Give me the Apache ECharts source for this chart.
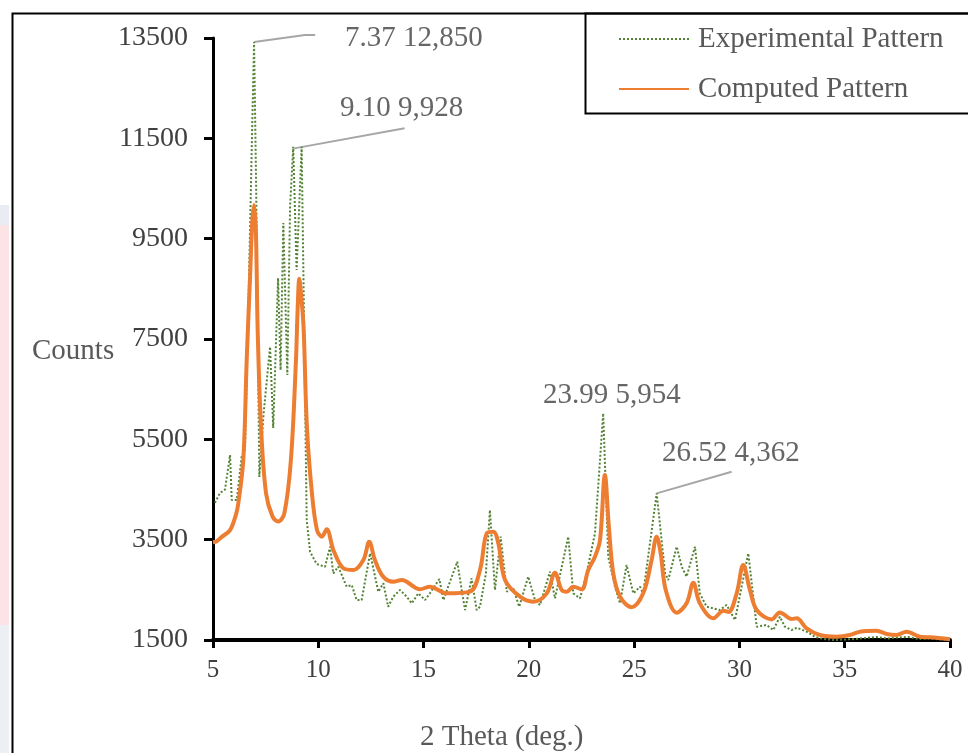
<!DOCTYPE html>
<html>
<head>
<meta charset="utf-8">
<script src="https://cdn.jsdelivr.net/npm/echarts@6/dist/echarts.min.js"></script>
<style>
html,body{margin:0;padding:0;background:#fff;}
#chart{width:968px;height:753px;}
</style>
</head>
<body>
<div id="chart"></div>
<script>
// ---- data ----
const xTicks = [5, 10, 15, 20, 25, 30, 35, 40];
const yTicks = [1500, 3500, 5500, 7500, 9500, 11500, 13500];

const expX = [5.09,5.33,5.57,5.81,5.89,6.13,6.36,6.52,6.7,6.85,6.95,7.05,7.2,7.4,7.71,7.86,8.09,8.21,8.34,8.53,8.66,8.81,8.97,9.21,9.32,9.45,9.61,9.92,10.32,10.56,10.71,10.95,11.35,11.59,11.82,12.06,12.46,12.85,13.09,13.32,13.56,13.88,14.20,14.44,14.75,15.07,15.30,15.75,15.94,16.17,16.60,16.81,16.97,17.28,17.52,17.68,17.96,18.15,18.39,18.66,18.95,19.26,19.54,19.97,20.29,20.53,21.00,21.24,21.87,22.11,22.43,22.74,23.14,23.53,23.77,24.09,24.33,24.64,24.96,25.28,25.43,26.07,26.47,26.62,27.02,27.26,27.49,27.89,28.12,28.44,28.76,29.07,29.39,29.79,30.42,30.82,31.29,31.61,31.92,32.16,32.48,32.72,33.19,33.6,34.0,34.5,35.0,35.5,36.0,36.5,37.0,37.5,38.0,38.5,39.0,39.5,40.0];
const expY = [4236,4429,4500,5187,4290,4290,5153,5300,8500,11500,13420,10500,4750,6000,7345,5725,8715,6880,9811,6781,10137,11332,8874,11332,8000,3892,3260,3015,2961,3360,2828,2961,2563,2596,2297,2297,3227,2463,2630,2164,2363,2497,2363,2231,2430,2297,2430,2716,2297,2563,3061,2497,2098,2730,2098,2164,2828,4091,2497,3560,2463,2530,2164,2763,2297,2197,2862,2330,3560,2430,2330,2828,3627,6018,3160,2563,2231,2995,2430,2563,2430,4423,2828,2696,3360,2961,2763,3360,2430,2164,2131,2098,2197,1899,3227,1765,1799,1699,1964,1765,1699,1745,1666,1560,1520,1500,1510,1520,1540,1560,1530,1550,1560,1520,1530,1510,1500];

const calcX = [5.00,5.18,5.43,5.81,6.09,6.20,6.44,6.60,6.76,6.86,6.95,7.04,7.12,7.28,7.52,7.83,8.10,8.39,8.70,8.94,9.02,9.10,9.18,9.30,9.46,9.70,9.94,10.17,10.40,10.72,11.19,11.67,12.14,12.42,12.69,13.08,13.56,13.96,14.83,15.30,16.10,17.20,17.68,18.00,18.31,18.55,18.87,19.58,20.21,20.85,21.24,21.56,21.80,22.11,22.51,22.82,23.14,23.38,23.61,23.80,24.01,24.33,24.88,25.43,25.83,26.07,26.26,26.50,27.02,27.49,27.81,28.12,28.76,29.24,29.48,29.87,30.18,30.50,30.82,31.53,31.92,32.48,32.72,33.19,33.82,34.62,35.25,35.72,36.51,36.99,37.46,37.94,38.57,39.05,40.00];
const calcY = [3450,3470,3560,3690,4000,4220,5100,7080,8740,9800,10170,9600,7700,5750,4420,3960,3860,4030,5090,7080,8100,8700,8400,7740,5750,4420,3690,3560,3706,3290,2930,2895,3094,3459,3094,2763,2662,2696,2510,2563,2430,2463,2895,3627,3659,3427,2696,2363,2263,2430,2841,2497,2463,2563,2510,2895,3160,3493,4789,3758,2828,2363,2152,2430,3094,3560,3227,2497,2045,2231,2642,2231,1932,2084,2058,2430,2995,2497,2098,1911,2050,1918,1932,1733,1600,1566,1600,1666,1686,1620,1600,1666,1566,1553,1514];

const annotText = ['7.37 12,850', '9.10 9,928', '23.99 5,954', '26.52 4,362'];
const annotX = [11.27, 11.03, 20.67, 26.32];
const annotY = [13498, 12103, 6383, 5227];

const leaderA = [[6.95,13420],[9.37,13560],[9.85,13560]];
const leaderB = [[8.86,11300],[14.1,11700]];
const leaderC = [[26.07,4423],[29.63,4854]];

const seriesNames = ['Experimental Pattern', 'Computed Pattern'];

// ---- chart ----
const FONT = 'Liberation Serif';
const TXT = '#404040';
const chart = echarts.init(document.getElementById('chart'), null, {renderer: 'canvas'});
const pair = (xs, ys) => xs.map((x, i) => [x, ys[i]]);
const leaderSeries = (d) => ({
  type: 'line', data: d, clip: false, silent: true, symbol: 'none', z: 1,
  lineStyle: {color: '#a6a6a6', width: 2}, legendHoverLink: false, tooltip: {show: false}
});

chart.setOption({
  animation: false,
  backgroundColor: '#ffffff',
  grid: {left: 213, right: 18, top: 38, bottom: 113, containLabel: false},
  xAxis: {
    type: 'value', min: xTicks[0], max: xTicks[xTicks.length - 1], interval: 5,
    axisLine: {lineStyle: {color: '#000', width: 4}},
    axisTick: {show: true, length: 8, lineStyle: {color: '#000', width: 3}},
    axisLabel: {color: TXT, fontFamily: FONT, fontSize: 25, margin: 18},
    splitLine: {show: false}
  },
  yAxis: {
    type: 'value', min: yTicks[0], max: yTicks[yTicks.length - 1], interval: 2000,
    axisLine: {show: true, lineStyle: {color: '#000', width: 3}},
    axisTick: {show: true, length: 9, lineStyle: {color: '#000', width: 3}},
    axisLabel: {color: TXT, fontFamily: FONT, fontSize: 28, margin: 25, formatter: v => String(v)},
    splitLine: {show: false}
  },
  legend: {
    orient: 'vertical', left: 613, top: 19, itemGap: 20, itemWidth: 70, itemHeight: 14,
    data: seriesNames,
    itemStyle: {opacity: 0},
    textStyle: {color: '#595959', fontFamily: FONT, fontSize: 29, lineHeight: 30, padding: [0,0,0,4]}
  },
  graphic: [
    {type: 'rect', left: 0, top: 205, shape: {width: 9, height: 20}, style: {fill: '#e9edf3'}, z: 0},
    {type: 'rect', left: 0, top: 225, shape: {width: 9, height: 400}, style: {fill: '#fbe3e6'}, z: 0},
    {type: 'rect', left: 0, top: 625, shape: {width: 9, height: 128}, style: {fill: '#eceff4'}, z: 0},
    {type: 'rect', left: 10, top: 11, shape: {width: 1000, height: 800}, style: {fill: 'none', stroke: '#000', lineWidth: 2}, z: 100},
    {type: 'rect', left: 583, top: 11, shape: {width: 400, height: 100}, style: {fill: 'none', stroke: '#000', lineWidth: 2}, z: 100},
    {type: 'text', left: 32, top: 337, style: {text: 'Counts', fill: '#595959', font: '29px "Liberation Serif"'}},
    {type: 'text', left: 420, top: 723, style: {text: '2 Theta (deg.)', fill: '#595959', font: '29px "Liberation Serif"'}}
  ],
  series: [
    {
      name: seriesNames[0], type: 'line', data: pair(expX, expY), symbol: 'none', smooth: false, z: 3,
      lineStyle: {color: '#548235', width: 2, type: [2, 2]}, itemStyle: {color: '#548235'}
    },
    {
      name: seriesNames[1], type: 'line', data: pair(calcX, calcY), symbol: 'none', smooth: 0.35, z: 4,
      lineStyle: {color: '#ED7D31', width: 4}, itemStyle: {color: '#ED7D31'}
    },
    leaderSeries(leaderA), leaderSeries(leaderB), leaderSeries(leaderC),
    {
      type: 'scatter', symbolSize: 0, z: 5, silent: true,
      data: annotX.map((x, i) => ({value: [x, annotY[i]], name: annotText[i]})),
      label: {show: true, position: 'right', distance: 0, formatter: p => p.name,
              color: TXT, fontFamily: FONT, fontSize: 29}
    }
  ]
});
</script>
</body>
</html>
